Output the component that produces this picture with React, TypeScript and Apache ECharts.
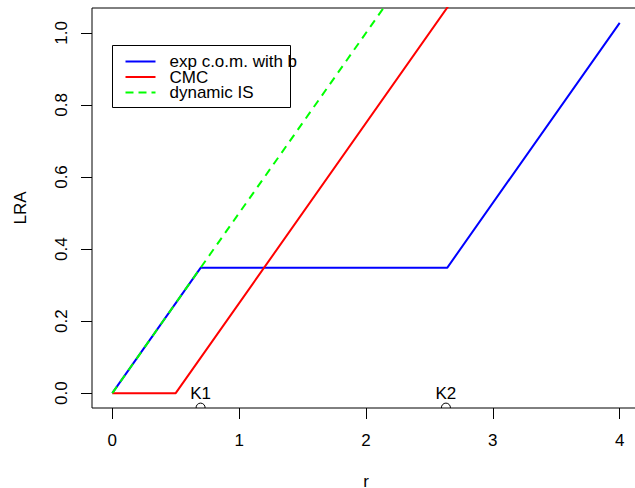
import React, { useEffect, useRef } from "react";
import * as echarts from "echarts";

const xTicks = [0, 1, 2, 3, 4];
const yTicks = [0, 0.2, 0.4, 0.6, 0.8, 1.0];
const seriesNames = ["exp c.o.m. with b", "CMC", "dynamic IS"];
const seriesColors = ["#0000FF", "#FF0000", "#00FF00"];

const expComR = [0, 0.696, 2.64, 4];
const expComLRA = [0, 0.348, 0.348, 1.028];
const cmcR = [0, 0.5, 4];
const cmcLRA = [0, 0, 1.75];
const dynIsR = [0, 4];
const dynIsLRA = [0, 2.0];

const kNames = ["K1", "K2"];
const kR = [0.696, 2.63];
const kMarkLRA = -0.04;
const kLabelLRA = 0;

const X_MIN = -0.16;
const X_MAX = 4.16;
const Y_MIN = -0.0411;
const Y_MAX = 1.0691;

const FONT = "'Liberation Sans', Arial, Helvetica, sans-serif";
const FS = 17;

function pairs(xs: number[], ys: number[]) {
  return xs.map((x, i) => [x, ys[i]]);
}

export default function App() {
  const ref = useRef<HTMLDivElement>(null);
  useEffect(() => {
    if (!ref.current) return;
    const chart = echarts.init(ref.current, undefined, { renderer: "svg" });
    const lineStyleBase = { width: 2 };
    const option: any = {
      animation: false,
      backgroundColor: "#ffffff",
      textStyle: { fontFamily: FONT },
      grid: {
        left: 92,
        top: 8,
        right: -5,
        bottom: 80,
        show: true,
        containLabel: false,
        outerBoundsMode: "none",
        borderColor: "#000",
        borderWidth: 1,
        backgroundColor: "transparent",
      },
      xAxis: {
        type: "value",
        min: X_MIN,
        max: X_MAX,
        name: "r",
        nameLocation: "middle",
        nameGap: 67,
        nameTextStyle: { fontSize: FS, lineHeight: 12, color: "#000", fontFamily: FONT },
        axisLine: { show: false, onZero: false },
        splitLine: { show: false },
        axisTick: {
          show: true,
          inside: false,
          length: 11,
          customValues: xTicks,
          lineStyle: { color: "#000", width: 1 },
        },
        axisLabel: {
          customValues: xTicks,
          margin: 24,
          fontSize: FS,
          color: "#000",
          fontFamily: FONT,
          formatter: (v: number) => String(v),
        },
      },
      yAxis: {
        type: "value",
        min: Y_MIN,
        max: Y_MAX,
        name: "LRA",
        nameLocation: "middle",
        nameRotate: 90,
        nameGap: 63,
        nameTextStyle: { fontSize: FS, color: "#000", fontFamily: FONT },
        axisLine: { show: false, onZero: false },
        splitLine: { show: false },
        axisTick: {
          show: true,
          inside: false,
          length: 11,
          customValues: yTicks,
          lineStyle: { color: "#000", width: 1 },
        },
        axisLabel: {
          customValues: yTicks,
          rotate: 90,
          margin: 22,
          fontSize: FS,
          color: "#000",
          fontFamily: FONT,
          formatter: (v: number) => v.toFixed(1),
        },
      },
      series: [
        {
          name: seriesNames[0],
          type: "line",
          data: pairs(expComR, expComLRA),
          showSymbol: false,
          symbol: "none",
          clip: true,
          lineStyle: { ...lineStyleBase, color: seriesColors[0] },
          z: 3,
        },
        {
          name: seriesNames[1],
          type: "line",
          data: pairs(cmcR, cmcLRA),
          showSymbol: false,
          symbol: "none",
          clip: true,
          lineStyle: { ...lineStyleBase, color: seriesColors[1] },
          z: 3,
        },
        {
          name: seriesNames[2],
          type: "line",
          data: pairs(dynIsR, dynIsLRA),
          showSymbol: false,
          symbol: "none",
          clip: true,
          lineStyle: { ...lineStyleBase, color: seriesColors[2], type: [8, 6] },
          z: 4,
        },
        {
          type: "custom",
          data: kR.map((r, i) => [r, kMarkLRA, kLabelLRA, i]),
          renderItem: (params: any, api: any) => {
            const x = api.value(0);
            const c = api.coord([x, api.value(1)]);
            const t = api.coord([x, api.value(2)]);
            const bottom = api.coord([x, Y_MIN])[1];
            const r = 4.5;
            const dy = Math.min(r, Math.max(-r, bottom - c[1]));
            const ext = Math.asin(dy / r);
            const idx = api.value(3);
            return {
              type: "group",
              children: [
                {
                  type: "arc",
                  shape: {
                    cx: c[0],
                    cy: c[1],
                    r,
                    startAngle: Math.PI - ext,
                    endAngle: 2 * Math.PI + ext,
                  },
                  style: { stroke: "#000", lineWidth: 1, fill: null },
                },
                {
                  type: "text",
                  x: t[0],
                  y: t[1],
                  style: {
                    text: kNames[idx],
                    fill: "#000",
                    font: `${FS}px ${FONT}`,
                    align: "center",
                    verticalAlign: "middle",
                  },
                },
              ],
            };
          },
          z: 5,
        },
      ],
      graphic: [
        {
          type: "group",
          left: 112,
          top: 45,
          z: 100,
          children: [
            {
              type: "rect",
              shape: { x: 0, y: 0, width: 178, height: 62 },
              style: { fill: "#fff", stroke: "#000", lineWidth: 1 },
            },
            ...seriesNames.flatMap((name, i) => [
              {
                type: "line",
                shape: { x1: 13, y1: 16 + i * 15.5, x2: 43, y2: 16 + i * 15.5 },
                style: {
                  stroke: seriesColors[i],
                  lineWidth: 2,
                  lineDash: i === 2 ? [8, 5] : null,
                },
              },
              {
                type: "text",
                x: 57,
                y: 16 + i * 15.5,
                style: {
                  text: name,
                  fill: "#000",
                  font: `${FS}px ${FONT}`,
                  lineHeight: 15,
                  align: "left",
                  verticalAlign: "middle",
                },
              },
            ]),
          ],
        },
      ],
    };
    chart.setOption(option);
    return () => chart.dispose();
  }, []);
  return (
    <div
      ref={ref}
      style={{ position: "fixed", left: 0, top: 0, width: 635, height: 488 }}
    />
  );
}
